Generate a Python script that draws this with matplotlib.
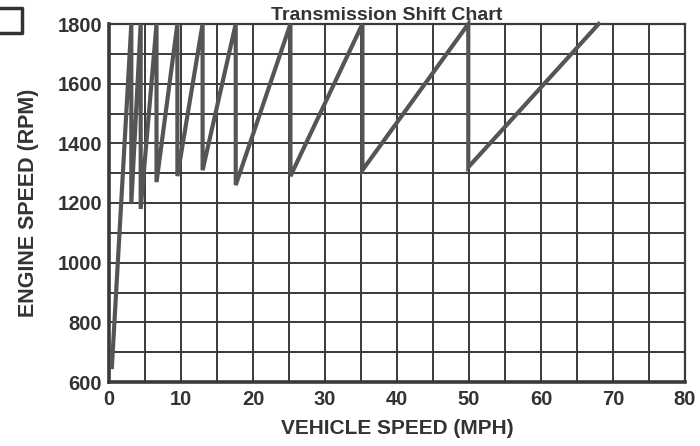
import matplotlib.pyplot as plt
from matplotlib.lines import Line2D
from matplotlib.ticker import MultipleLocator

# sawtooth: rise along each gear, drop straight down at each upshift
speed_mph = [0.4, 3.1, 3.1, 4.4, 4.4, 6.6, 6.6, 9.5, 9.5, 13.0, 13.0,
             17.6, 17.6, 25.2, 25.2, 35.2, 35.2, 49.9, 49.9, 68.0]
engine_rpm = [650, 1800, 1200, 1800, 1180, 1800, 1270, 1800, 1290, 1800, 1310,
              1800, 1260, 1800, 1290, 1800, 1310, 1800, 1320, 1800]

x_ticks = [0, 10, 20, 30, 40, 50, 60, 70, 80]
y_ticks = [600, 800, 1000, 1200, 1400, 1600, 1800]

INK = "#3a3a3a"
TEXT = "#333333"

plt.rcParams["font.family"] = ["Liberation Sans", "DejaVu Sans"]
plt.rcParams["font.weight"] = "bold"

fig = plt.figure(figsize=(7, 4.46), dpi=100)
ax = fig.add_axes([109 / 700, 64 / 446, 576 / 700, 358 / 446])

ax.plot(speed_mph, engine_rpm, color="#555555", lw=3.0,
        solid_joinstyle="miter", clip_on=False, zorder=3)

ax.set_xlim(0, 80)
ax.set_ylim(600, 1800)
ax.set_xticks(x_ticks)
ax.set_yticks(y_ticks)
ax.xaxis.set_minor_locator(MultipleLocator(5))
ax.yaxis.set_minor_locator(MultipleLocator(100))
ax.grid(which="both", color=INK, lw=1.4)
ax.tick_params(which="both", length=0, labelsize=14.5, colors=TEXT)
ax.tick_params(axis="x", pad=6)
ax.tick_params(axis="y", pad=5)

for side in ["left", "bottom"]:
    ax.spines[side].set_linewidth(2.6)
for side in ["top", "right"]:
    ax.spines[side].set_linewidth(1.6)
for sp in ax.spines.values():
    sp.set_color(INK)

ax.set_xlabel("VEHICLE SPEED (MPH)", fontsize=15, fontweight="bold",
              color=TEXT, labelpad=7)
ax.set_ylabel("ENGINE SPEED (RPM)", fontsize=15.5, fontweight="bold",
              color=TEXT, labelpad=13)

# title sits right at the top edge of the scan
fig.text(387 / 700, 1 - 20 / 446, "Transmission Shift Chart", ha="center",
         va="baseline", fontsize=14, fontweight="bold", color=TEXT)

# remains of a check box in the top-left corner
fig.add_artist(Line2D([-5 / 700, 22 / 700, 22 / 700, -5 / 700],
                      [1 - 8 / 446, 1 - 8 / 446, 1 - 33 / 446, 1 - 33 / 446],
                      transform=fig.transFigure, color=TEXT, lw=2.5))

fig.savefig("out.png", dpi=100)
